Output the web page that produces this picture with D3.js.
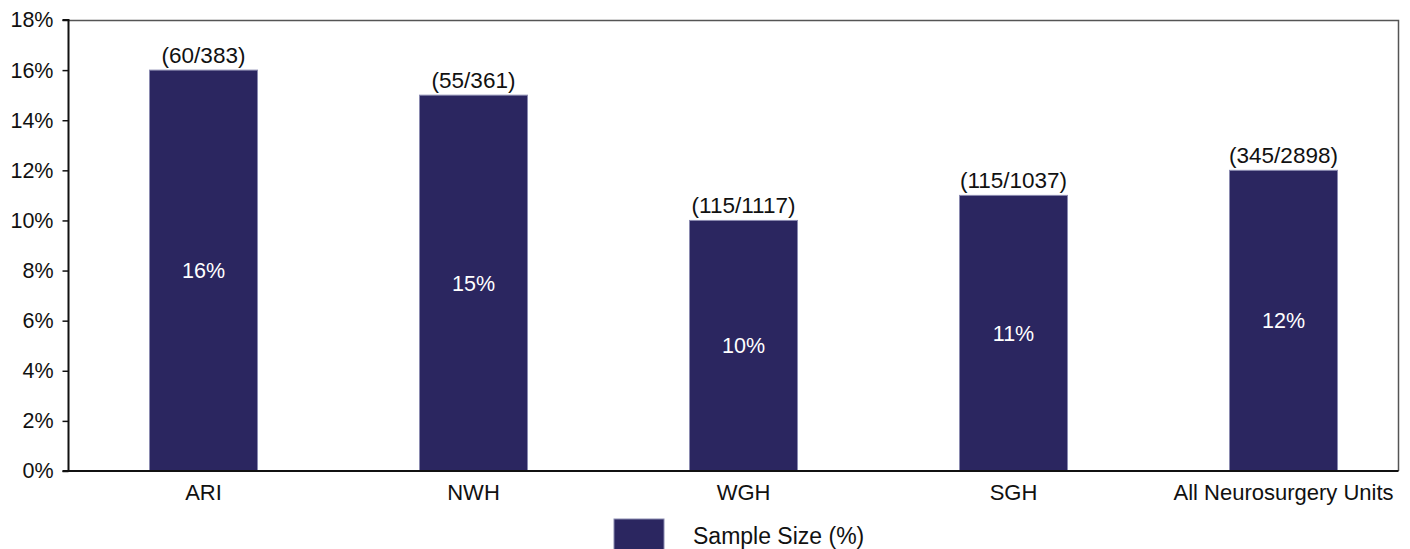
<!DOCTYPE html>
<html>
<head>
<meta charset="utf-8">
<script src="https://cdn.jsdelivr.net/npm/d3@7"></script>
<style>
  html, body { margin: 0; padding: 0; background: #fff; }
  svg { display: block; font-family: "Liberation Sans", Arial, sans-serif; }
</style>
</head>
<body>
<svg id="chart" width="1410" height="549"></svg>
<script>
// Share of each unit's sample, with counts shown above the bars
const categories = ["ARI", "NWH", "WGH", "SGH", "All Neurosurgery Units"];
const percentValues = [16, 15, 10, 11, 12];
const countLabels = ["(60/383)", "(55/361)", "(115/1117)", "(115/1037)", "(345/2898)"];
const yTicks = [0, 2, 4, 6, 8, 10, 12, 14, 16, 18];
const seriesName = "Sample Size (%)";

const barFill = "#2b2660";
const barEdge = "#8a8ab0";
const fontFamily = "'Liberation Sans', Arial, sans-serif";

const svg = d3.select("#chart");
const frame = { left: 68.5, right: 1398.5, top: 20.5, bottom: 471 };

const x = d3.scaleBand()
  .domain(categories)
  .range([frame.left, frame.left + 270 * categories.length])
  .paddingInner(0.6)
  .paddingOuter(0.3);

const y = d3.scaleLinear().domain([0, 18]).range([frame.bottom, 20]);

// Plot frame: top and right edges
svg.append("path")
  .attr("d", `M${frame.left},${frame.top}H${frame.right}V${frame.bottom}`)
  .attr("fill", "none")
  .attr("stroke", "#555")
  .attr("stroke-width", 1.5);

// Bars
svg.selectAll("rect.bar")
  .data(categories)
  .join("rect")
  .attr("class", "bar")
  .attr("x", d => x(d))
  .attr("width", x.bandwidth())
  .attr("y", (d, i) => y(percentValues[i]))
  .attr("height", (d, i) => y(0) - y(percentValues[i]))
  .attr("fill", barFill)
  .attr("stroke", barEdge)
  .attr("stroke-width", 1);

// Y axis
const yAxis = d3.axisLeft(y)
  .tickValues(yTicks)
  .tickFormat(d => d + "%")
  .tickSize(6)
  .tickPadding(9);
const yg = svg.append("g")
  .attr("transform", `translate(${frame.left},0)`)
  .call(yAxis);
yg.select(".domain").attr("stroke", "#111").attr("stroke-width", 2)
  .attr("d", `M-6,${y(18)}H0V${y(0)}H-6`);
yg.selectAll(".tick line").attr("stroke", "#111").attr("stroke-width", 1.5);
yg.selectAll(".tick text")
  .attr("fill", "#111")
  .style("font-size", "21.5px")
  .style("font-family", fontFamily);

// X baseline and category labels
const xAxis = d3.axisBottom(x).tickSize(0).tickPadding(13);
const xg = svg.append("g")
  .attr("transform", `translate(0,${frame.bottom})`)
  .call(xAxis);
xg.select(".domain").attr("stroke", "#111").attr("stroke-width", 2)
  .attr("d", `M${frame.left},0H${frame.right}`);
xg.selectAll(".tick text")
  .attr("fill", "#111")
  .style("font-size", "22px")
  .style("font-family", fontFamily);

// Counts above bars
svg.selectAll("text.count")
  .data(categories)
  .join("text")
  .attr("class", "count")
  .attr("x", d => x(d) + x.bandwidth() / 2)
  .attr("y", (d, i) => y(percentValues[i]) - 7)
  .attr("text-anchor", "middle")
  .attr("fill", "#111")
  .style("font-size", "22.5px")
  .text((d, i) => countLabels[i]);

// Percent labels inside bars
svg.selectAll("text.pct")
  .data(categories)
  .join("text")
  .attr("class", "pct")
  .attr("x", d => x(d) + x.bandwidth() / 2)
  .attr("y", (d, i) => y(percentValues[i] / 2))
  .attr("dy", "0.35em")
  .attr("text-anchor", "middle")
  .attr("fill", "#fff")
  .style("font-size", "21.5px")
  .text((d, i) => percentValues[i] + "%");

// Legend
const legend = svg.append("g").attr("transform", "translate(614,519)");
legend.append("rect")
  .attr("width", 50).attr("height", 31)
  .attr("fill", barFill)
  .attr("stroke", barEdge).attr("stroke-width", 1);
legend.append("text")
  .attr("x", 79).attr("y", 25)
  .attr("fill", "#111")
  .style("font-size", "23px")
  .text(seriesName);
</script>
</body>
</html>
